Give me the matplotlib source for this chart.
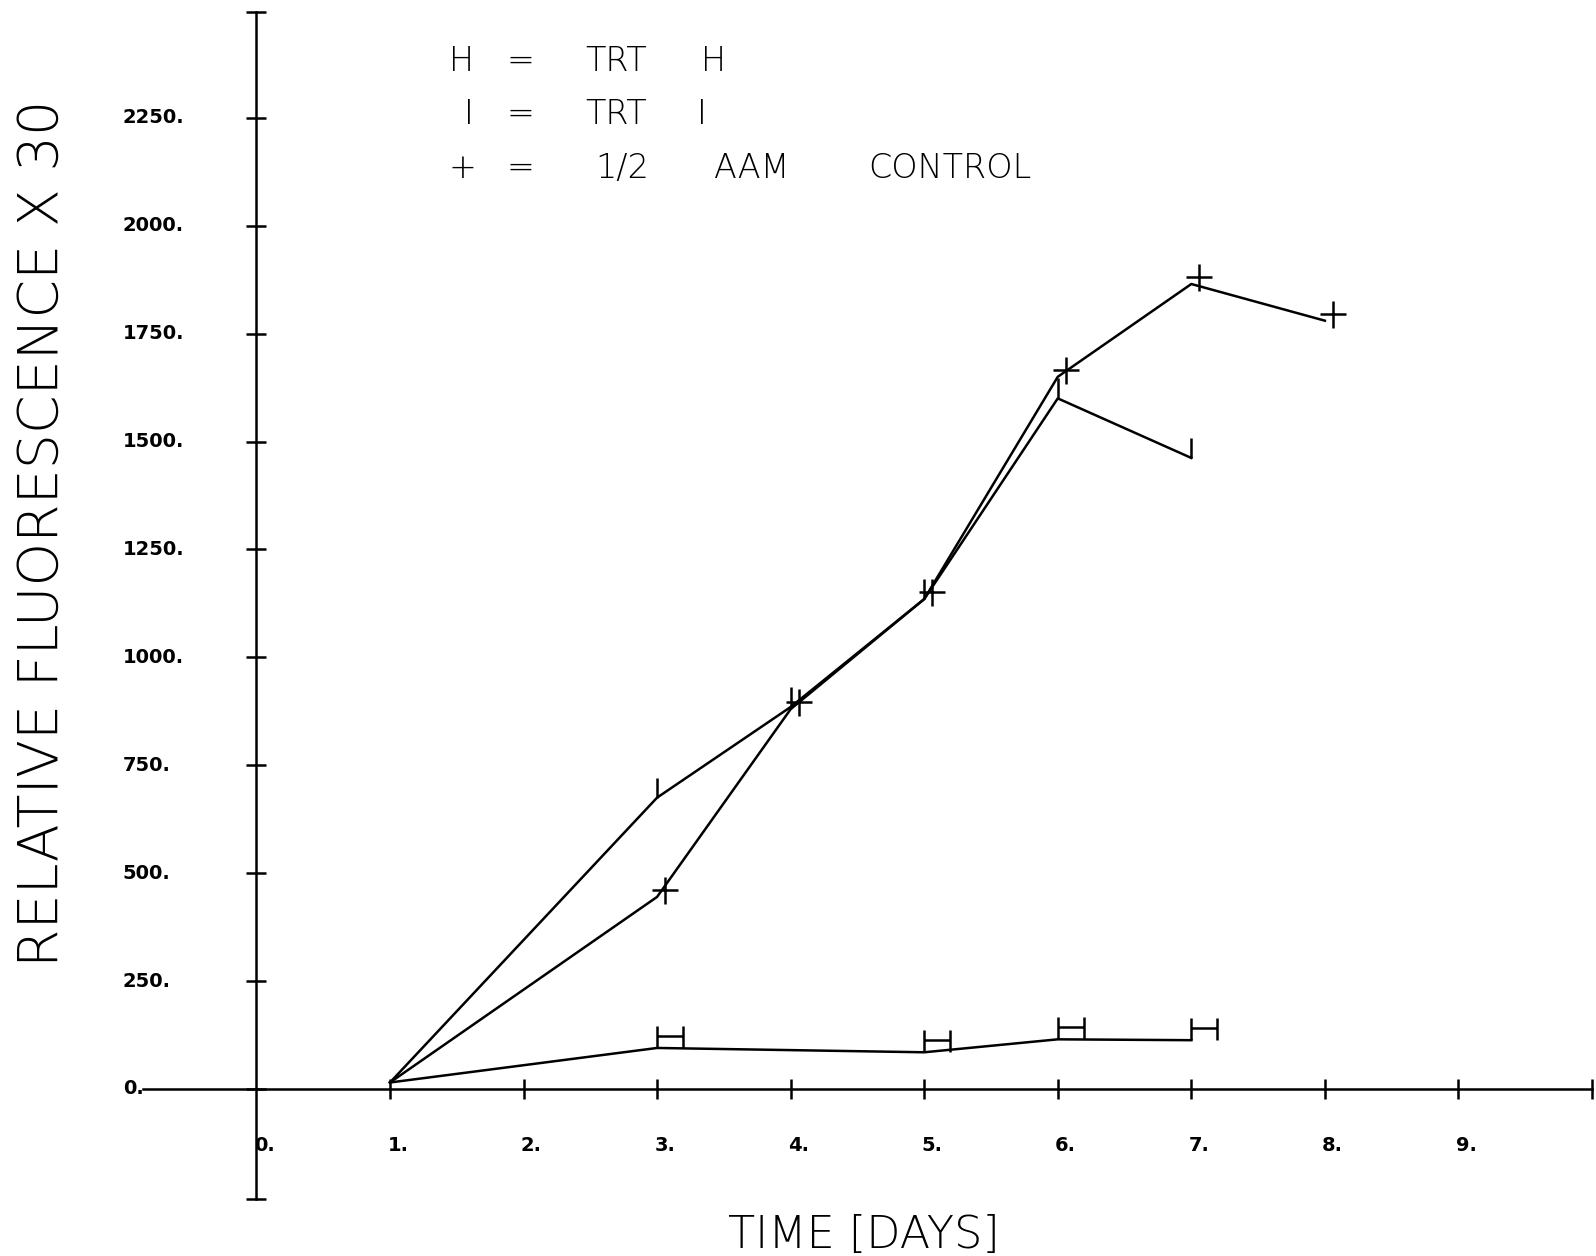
import matplotlib
matplotlib.use("Agg")
import matplotlib.pyplot as plt
from matplotlib.path import Path

# data
days_h = [1, 3, 5, 6, 7]
trt_h = [15, 95, 85, 115, 113]

days_i = [1, 3, 4, 5, 6, 7]
trt_i = [15, 675, 885, 1135, 1600, 1462]

days_c = [1, 3, 4, 5, 6, 7, 8]
control = [15, 445, 880, 1135, 1650, 1865, 1780]

yticks = [0, 250, 500, 750, 1000, 1250, 1500, 1750, 2000, 2250]
xticks = [1, 2, 3, 4, 5, 6, 7, 8, 9]
xlabels = [0, 1, 2, 3, 4, 5, 6, 7, 8, 9]

plt.rcParams['font.family'] = ['DejaVu Sans']

# plotter style symbols (line meets the symbol at its bottom)
M, L = Path.MOVETO, Path.LINETO
h_mark = Path([(0, 0), (0, 1.7), (2, 0), (2, 1.7), (0, 0.9), (2, 0.9)], [M, L, M, L, M, L])
i_mark = Path([(0, 0), (0, 1)], [M, L])
p_mark = Path([(-0.4, 0.5), (1.6, 0.5), (0.6, -0.5), (0.6, 1.5)], [M, L, M, L])

fig = plt.figure(figsize=(15.96, 12.56), dpi=100)
ax = fig.add_axes([0, 0, 1, 1])
ax.set_xlim(-1.92, 10.03)
ax.set_ylim(-387, 2523)

lw = 1.8
skip = slice(1, None)  # no symbol at the common start point
ax.plot(days_h, trt_h, color='black', lw=lw, marker=h_mark, ms=37, markevery=skip,
        mfc='none', mec='black', mew=lw)
ax.plot(days_i, trt_i, color='black', lw=lw, marker=i_mark, ms=29, markevery=skip,
        mfc='none', mec='black', mew=lw)
ax.plot(days_c, control, color='black', lw=lw, marker=p_mark, ms=30, markevery=skip,
        mfc='none', mec='black', mew=lw)

# axes crossing at the origin
for s in ['top', 'right']:
    ax.spines[s].set_visible(False)
ax.spines['left'].set_position(('data', 0))
ax.spines['bottom'].set_position(('data', 0))
ax.spines['left'].set_bounds(-255, 2495)
ax.spines['bottom'].set_bounds(-0.85, 10)
ax.spines['left'].set_linewidth(lw)
ax.spines['bottom'].set_linewidth(lw)

ax.set_yticks(yticks)
ax.set_yticks([-255, 2495], minor=True)
ax.set_xticks(xticks)
ax.set_xticks([10], minor=True)
ax.tick_params(which='both', direction='inout', length=15, width=lw,
               labelleft=False, labelbottom=False)

for v in yticks:
    ax.text(-1.0, v, f"{v}.", ha='left', va='center', fontsize=14, fontweight='bold')
for d in xlabels:
    ax.text(d - 0.02, -130, f"{d}.", ha='left', va='center', fontsize=14, fontweight='bold')

fig.text(0.027, 0.575, "RELATIVE FLUORESCENCE X 30", rotation=90,
         ha='center', va='center', fontsize=40, fontweight='light')
fig.text(0.541, 0.016, "TIME [DAYS]", ha='center', va='center',
         fontsize=32, fontweight='light')

# legend block at the top
leg = [
    (0.951, [(0.289, "H"), (0.326, "="), (0.386, "TRT"), (0.447, "H")]),
    (0.909, [(0.294, "I"), (0.326, "="), (0.386, "TRT"), (0.440, "I")]),
    (0.866, [(0.290, "+"), (0.326, "="), (0.390, "1/2"), (0.471, "AAM"), (0.595, "CONTROL")]),
]
for y, parts in leg:
    for x, s in parts:
        fig.text(x, y, s, ha='center', va='center', fontsize=24, fontweight='light')

fig.savefig("out.png", dpi=100, facecolor='white')
